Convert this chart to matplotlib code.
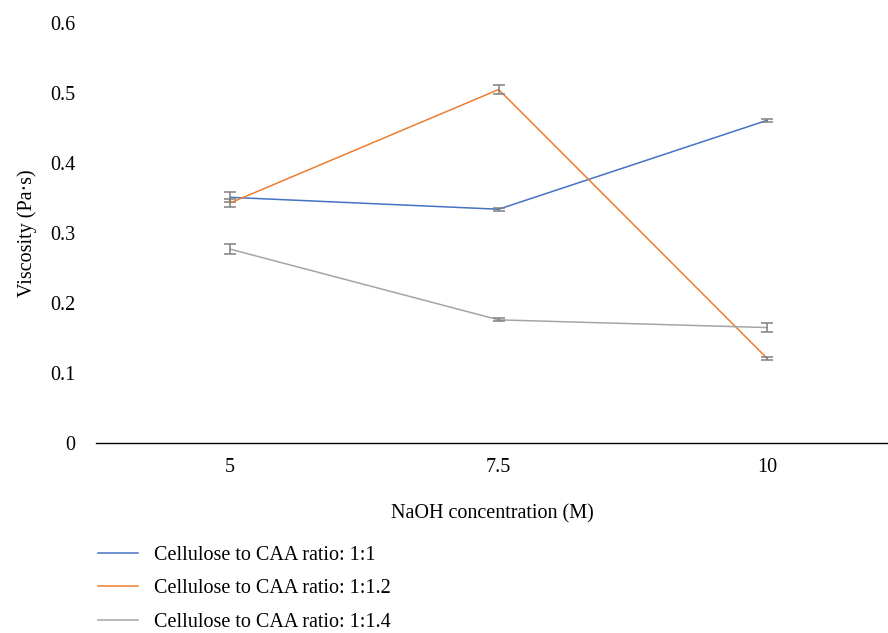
import matplotlib.pyplot as plt
from matplotlib.lines import Line2D

plt.rcParams['font.family'] = ['Liberation Serif', 'DejaVu Serif']

naoh = ['5', '7.5', '10']
labels = [
    'Cellulose to CAA ratio: 1:1',
    'Cellulose to CAA ratio: 1:1.2',
    'Cellulose to CAA ratio: 1:1.4',
]
visc_11 = [0.351, 0.334, 0.461]
visc_112 = [0.343, 0.505, 0.121]
visc_114 = [0.277, 0.176, 0.165]
err_11 = [0.007, 0.002, 0.002]
err_112 = [0.006, 0.006, 0.002]
err_114 = [0.007, 0.002, 0.007]
colors = ['#4472C4', '#ED7D31', '#A5A5A5']

fig = plt.figure(figsize=(8.88, 6.33), dpi=100)
ax = fig.add_axes([0.108, 0.30, 0.892, 0.6637])

x = range(len(naoh))
for vals, errs, c in zip([visc_11, visc_112, visc_114],
                         [err_11, err_112, err_114], colors):
    ax.plot(x, vals, color=c, lw=1.1)
    ax.errorbar(x, vals, yerr=errs, fmt='none', ecolor='#808080',
                elinewidth=1.1, capsize=4, capthick=1.1)

ax.set_xlim(-0.5, 2.45)
ax.set_ylim(0, 0.6)
ax.set_xticks(list(x))
ax.set_xticklabels(naoh)
ax.set_yticks([0, 0.1, 0.2, 0.3, 0.4, 0.5, 0.6])
ax.set_yticklabels(['0', '0.1', '0.2', '0.3', '0.4', '0.5', '0.6'])
ax.tick_params(axis='both', length=0, labelsize=14.5)
ax.tick_params(axis='x', pad=11)
ax.tick_params(axis='y', pad=15)
for s in ['top', 'right', 'left']:
    ax.spines[s].set_visible(False)
ax.spines['bottom'].set_color('black')
ax.spines['bottom'].set_linewidth(1.0)
ax.set_xlabel('NaOH concentration (M)', fontsize=14.5, labelpad=19)
ax.set_ylabel('Viscosity (Pa·s)', fontsize=14.5, labelpad=9)

handles = [Line2D([0], [0], color=c, lw=1.1) for c in colors]
fig.legend(handles, labels, loc='upper left', bbox_to_anchor=(0.101, 0.151),
           frameon=False, fontsize=14.5, handlelength=2.0, handletextpad=0.8,
           labelspacing=0.72, borderaxespad=0)

fig.savefig('out.png', dpi=100)
